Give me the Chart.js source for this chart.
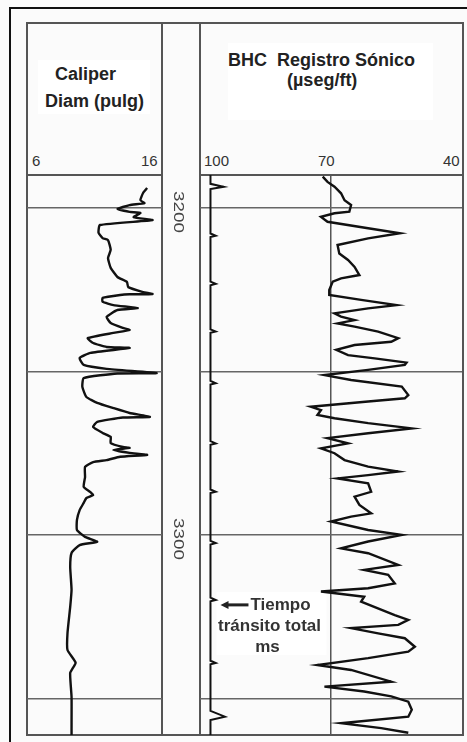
<!DOCTYPE html>
<html>
<head>
<meta charset="utf-8">
<script src="https://cdn.jsdelivr.net/npm/chart.js@4.4.1/dist/chart.umd.min.js"></script>
<style>
  html, body { margin: 0; padding: 0; background: #fbfbfb; }
  body { width: 467px; height: 742px; position: relative; overflow: hidden; font-family: 'Liberation Sans', Arial, sans-serif; color: #222; }
  .abs { position: absolute; }
  #frame { left: 9px; top: 7px; width: 460px; height: 760px; border: 2px solid #111; box-sizing: border-box; }
  #box { left: 26px; top: 22px; width: 438px; height: 714px; border: 2px solid #555; box-sizing: border-box; }
  .vl { width: 2px; background: #555; top: 22px; height: 714px; }
  .hl { height: 2px; background: #555; top: 174px; }
  .wbox { background: #fff; }
  .hd { font-weight: bold; font-size: 18px; line-height: 18px; white-space: pre; color: #222; }
  .sc { font-size: 15px; line-height: 15px; color: #333; }
  canvas { position: absolute; }
</style>
</head>
<body>
<div class="abs" id="frame"></div>
<div class="abs" id="box"></div>
<div class="abs vl" style="left:161px"></div>
<div class="abs vl" style="left:199px"></div>
<div class="abs hl" style="left:26px; width:137px"></div>
<div class="abs hl" style="left:199px; width:265px"></div>

<div class="abs wbox" style="left:38px; top:60px; width:112px; height:54px"></div>
<div class="abs wbox" style="left:228px; top:43px; width:205px; height:77px"></div>

<div class="abs hd" style="left:55px; top:65px">Caliper</div>
<div class="abs hd" style="left:45px; top:92px">Diam (pulg)</div>
<div class="abs hd" style="left:228px; top:51px">BHC  Registro Sónico</div>
<div class="abs hd" style="left:287px; top:71px">(µseg/ft)</div>

<div class="abs sc" style="left:32px; top:153px">6</div>
<div class="abs sc" style="left:141px; top:153px">16</div>
<div class="abs sc" style="left:204px; top:153px">100</div>
<div class="abs sc" style="left:318px; top:153px">70</div>
<div class="abs sc" style="left:443px; top:153px">40</div>

<canvas id="cal" width="173" height="560" style="left:27px; top:175px"></canvas>
<canvas id="son" width="262" height="560" style="left:200px; top:175px"></canvas>

<script>
// depth range shown in the tracks (ft)
const depthTop = 3189.9;
const depthBottom = 3361.2;
const depthLines = [3200, 3250, 3300, 3350];
const depthLabels = [3200, 3300];

// caliper curve (pulg) vs depth
const calDepth = [
  3193.9, 3195.4, 3197.6, 3198.5, 3199.1, 3200.3, 3201.2, 3201.5, 3202.8, 3203.7,
  3205.2, 3207.6, 3209.2, 3209.8, 3212.8, 3215.3, 3218.3, 3221.1, 3222.6, 3224.2,
  3225.7, 3226.3, 3226.4, 3226.6, 3227.5, 3228.7, 3229.7, 3230.6, 3231.2, 3233.3,
  3235.2, 3236.7, 3237.3, 3238.2, 3239.8, 3241.3, 3242.5, 3242.8, 3244.3, 3245.9,
  3248.0, 3249.2, 3250.5, 3250.6, 3252.0, 3254.7, 3257.8, 3259.6, 3261.2, 3262.7,
  3263.9, 3264.1, 3265.4, 3267.0, 3268.8, 3270.0, 3271.9, 3273.1, 3273.4, 3274.0,
  3274.9, 3275.5, 3276.1, 3277.1, 3277.7, 3279.2, 3282.3, 3285.3, 3286.9, 3287.8,
  3288.7, 3290.2, 3292.4, 3295.4, 3298.5, 3300.6, 3302.1, 3303.1, 3305.5, 3309.8,
  3316.8, 3322.0, 3330.0, 3335.2, 3339.1, 3342.2, 3349.5, 3359.6, 3361.5,
];
const calValue = [
  14.9, 14.6, 14.4, 14.7, 13.6, 12.7, 13.6, 14.4, 13.9, 15.3,
  11.4, 11.3, 11.6, 12.0, 12.2, 12.0, 12.2, 12.7, 13.4, 13.5,
  14.6, 15.3, 13.6, 12.9, 11.6, 11.6, 12.4, 14.2, 12.7, 11.9,
  12.2, 13.1, 13.6, 12.4, 10.5, 10.9, 11.9, 13.6, 10.7, 9.9,
  10.2, 11.9, 15.6, 12.7, 10.2, 10.1, 10.4, 11.2, 12.4, 13.6,
  15.1, 13.1, 11.2, 10.9, 11.6, 12.2, 12.2, 13.1, 13.6, 12.4,
  13.6, 14.9, 12.9, 11.9, 10.9, 10.3, 10.3, 10.2, 10.7, 10.9,
  10.4, 10.2, 9.9, 9.7, 9.7, 10.3, 11.2, 9.9, 9.3, 9.2,
  9.3, 9.2, 9.0, 9.0, 9.6, 9.2, 9.3, 9.3, 9.3,
];

// sonic transit time (useg/ft) vs depth
const sonDepth = [
  3190.4, 3192.0, 3193.5, 3195.5, 3197.6, 3199.1, 3201.1, 3201.6, 3202.7, 3204.2,
  3206.2, 3207.7, 3209.3, 3211.3, 3213.9, 3215.9, 3218.0, 3220.5, 3221.5, 3222.5,
  3225.1, 3226.6, 3228.1, 3229.7, 3230.7, 3232.2, 3233.2, 3234.3, 3235.3, 3236.3,
  3237.8, 3239.8, 3240.9, 3241.9, 3243.4, 3245.0, 3246.0, 3247.3, 3248.0, 3249.5,
  3251.1, 3252.6, 3254.6, 3257.2, 3258.2, 3259.2, 3260.8, 3261.8, 3263.3, 3264.3,
  3265.8, 3267.4, 3268.9, 3270.4, 3272.0, 3273.5, 3275.0, 3277.1, 3279.1, 3280.6,
  3281.7, 3282.7, 3284.2, 3286.8, 3288.3, 3290.8, 3293.4, 3294.4, 3295.9, 3298.5,
  3300.0, 3302.0, 3304.1, 3305.6, 3309.2, 3310.7, 3312.2, 3314.8, 3316.3, 3317.3,
  3318.9, 3320.4, 3324.5, 3326.0, 3327.5, 3328.5, 3330.1, 3331.6, 3334.2, 3335.7,
  3337.7, 3339.8, 3341.3, 3344.9, 3346.4, 3347.9, 3349.4, 3351.0, 3353.5, 3355.6,
  3357.6, 3359.1, 3360.5,
];
const sonValue = [
  71.9, 70.8, 69.2, 67.7, 66.9, 65.4, 65.8, 69.2, 72.3, 70.8,
  61.5, 54.2, 61.5, 68.5, 68.1, 66.1, 64.6, 63.5, 67.7, 69.6,
  70.4, 70.4, 63.1, 55.0, 61.5, 69.2, 67.7, 64.6, 68.5, 64.6,
  59.2, 54.6, 56.2, 64.6, 68.8, 66.1, 60.0, 52.7, 53.1, 61.5,
  71.5, 65.4, 53.8, 52.3, 53.1, 61.5, 74.6, 72.3, 73.1, 69.2,
  61.5, 51.5, 61.5, 70.8, 66.1, 72.3, 69.2, 66.9, 61.5, 54.6,
  61.5, 68.5, 61.5, 60.8, 64.6, 63.5, 60.8, 65.4, 70.0, 61.5,
  53.8, 61.5, 67.7, 61.5, 54.6, 62.4, 56.9, 55.4, 61.5, 72.3,
  62.4, 63.1, 55.4, 52.3, 54.6, 65.4, 59.2, 53.1, 50.8, 52.3,
  61.5, 73.1, 65.4, 56.2, 71.5, 62.4, 56.2, 52.3, 51.5, 52.3,
  67.7, 58.5, 52.3,
];

// integrated transit time line with its pips
const ttDepth = [
  3189.5, 3192.6, 3193.5, 3194.2,
  3207.8, 3208.5, 3208.9, 3222.5, 3223.2, 3223.6, 3237.1, 3237.8, 3238.2,
  3252.9, 3253.6, 3254.0, 3271.3, 3272.0, 3272.4, 3286.1, 3286.8, 3287.2,
  3301.8, 3302.5, 3302.9, 3319.2, 3319.9, 3320.3, 3338.5, 3339.2, 3339.6,
  3353.8, 3355.6, 3356.6, 3361.5,
];
const ttValue = [
  97.6, 97.6, 94.6, 97.6,
  97.6, 96.4, 97.6, 97.6, 96.4, 97.6, 97.6, 96.4, 97.6,
  97.6, 96.4, 97.6, 97.6, 96.4, 97.6, 97.6, 96.4, 97.6,
  97.6, 96.4, 97.6, 97.6, 96.4, 97.6, 97.6, 96.4, 97.6,
  97.6, 94.3, 97.6, 97.6,
];

const noteDepth = 3321.4;
const noteLines = ['Tiempo', 'tránsito total', 'ms'];

const toPoints = (ys, xs) => ys.map((d, i) => ({ x: xs[i], y: d }));
const fontFamily = "'Liberation Sans', Arial, sans-serif";

function depthScale() {
  return {
    type: 'linear',
    reverse: true,
    min: depthTop,
    max: depthBottom,
    display: true,
    afterBuildTicks: (scale) => { scale.ticks = depthLines.map((v) => ({ value: v })); },
    ticks: { display: false },
    grid: { color: '#666', lineWidth: 1.5, drawTicks: false },
    border: { display: false },
  };
}

const depthLabelPlugin = {
  id: 'depthLabels',
  afterDraw(chart) {
    const { ctx, chartArea, scales } = chart;
    ctx.save();
    ctx.fillStyle = '#444';
    ctx.font = `14px ${fontFamily}`;
    ctx.textAlign = 'center';
    ctx.textBaseline = 'middle';
    depthLabels.forEach((d) => {
      ctx.save();
      ctx.translate(chartArea.right + 16, scales.y.getPixelForValue(d) + 4);
      ctx.rotate(Math.PI / 2);
      ctx.scale(1.35, 1);
      ctx.fillText(String(d), 0, 0);
      ctx.restore();
    });
    ctx.restore();
  },
};

const notePlugin = {
  id: 'note',
  beforeDatasetsDraw(chart) {
    const { ctx, scales } = chart;
    const y = scales.y.getPixelForValue(noteDepth);
    const x = scales.x.getPixelForValue(95.3);
    ctx.save();
    ctx.fillStyle = '#fff';
    ctx.fillRect(x - 4, y - 13, 110, 63);
    ctx.restore();
  },
  afterDraw(chart) {
    const { ctx, scales } = chart;
    const y = scales.y.getPixelForValue(noteDepth);
    const tip = scales.x.getPixelForValue(95.3);
    const tail = scales.x.getPixelForValue(88.9);
    ctx.save();
    ctx.strokeStyle = '#222';
    ctx.fillStyle = '#222';
    ctx.lineWidth = 3;
    ctx.beginPath();
    ctx.moveTo(tip + 6, y);
    ctx.lineTo(tail, y);
    ctx.stroke();
    ctx.beginPath();
    ctx.moveTo(tip, y);
    ctx.lineTo(tip + 8, y - 4);
    ctx.lineTo(tip + 8, y + 4);
    ctx.closePath();
    ctx.fill();
    ctx.font = `bold 17px ${fontFamily}`;
    ctx.fillStyle = '#333';
    ctx.textBaseline = 'alphabetic';
    ctx.textAlign = 'left';
    ctx.fillText(noteLines[0], tail + 2, y + 5);
    ctx.textAlign = 'center';
    ctx.fillText(noteLines[1], tip + 49, y + 26);
    ctx.fillText(noteLines[2], tip + 47, y + 47);
    ctx.restore();
  },
};

const lineStyle = {
  showLine: true,
  borderColor: '#111',
  pointRadius: 0,
  fill: false,
};

new Chart(document.getElementById('cal'), {
  type: 'scatter',
  data: {
    datasets: [{ ...lineStyle, data: toPoints(calDepth, calValue), borderWidth: 2.4, tension: 0.15 }],
  },
  options: {
    responsive: false,
    animation: false,
    layout: { padding: { left: 0, right: 38, top: 0, bottom: 0 } },
    plugins: { legend: { display: false }, tooltip: { enabled: false } },
    scales: {
      x: { type: 'linear', min: 6, max: 16, display: false },
      y: depthScale(),
    },
  },
  plugins: [depthLabelPlugin],
});

new Chart(document.getElementById('son'), {
  type: 'scatter',
  data: {
    datasets: [
      { ...lineStyle, data: toPoints(sonDepth, sonValue), borderWidth: 2.4 },
      { ...lineStyle, data: toPoints(ttDepth, ttValue), borderWidth: 2 },
    ],
  },
  options: {
    responsive: false,
    animation: false,
    layout: { padding: 0 },
    plugins: { legend: { display: false }, tooltip: { enabled: false } },
    scales: {
      x: {
        type: 'linear',
        reverse: true,
        min: 40,
        max: 100,
        display: true,
        afterBuildTicks: (scale) => { scale.ticks = [{ value: 70 }]; },
        ticks: { display: false },
        grid: { color: '#555', lineWidth: 1.5, drawTicks: false },
        border: { display: false },
      },
      y: depthScale(),
    },
  },
  plugins: [notePlugin],
});
</script>
</body>
</html>
